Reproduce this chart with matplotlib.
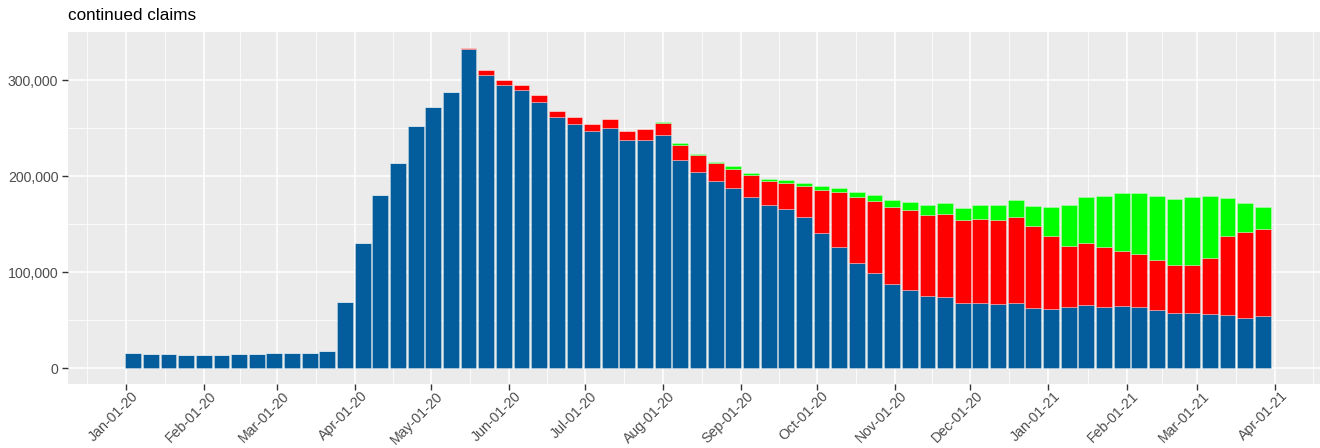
import numpy as np
import pandas as pd
import matplotlib
matplotlib.use("Agg")
import matplotlib.pyplot as plt
import matplotlib.dates as mdates
import matplotlib.transforms as mtransforms
from matplotlib.ticker import FuncFormatter, FixedLocator

plt.rcParams['font.family'] = ['Liberation Sans', 'DejaVu Sans']

# weekly data, week ending Saturday
weeks = pd.date_range("2020-01-04", "2021-03-27", freq="7D")

blue = [15300, 14300, 14300, 13500, 13500, 13500, 14200, 14200, 15300, 15300,
        15300, 18000, 69000, 130400, 180300, 213600, 251700, 271800, 287400, 332500,
        305400, 295000, 289500, 277700, 261400, 254800, 247200, 250000, 237500, 237500,
        242700, 217000, 204600, 194500, 187600, 178600, 170000, 165400, 157000, 140800,
        125800, 109600, 98800, 87800, 80800, 74600, 73900, 67600, 67600, 66200,
        68000, 62100, 61400, 63500, 65900, 63800, 64200, 63800, 60000, 57200,
        57200, 56500, 54800, 52000, 53800]

red = [0, 0, 0, 0, 0, 0, 0, 0, 0, 0,
       0, 0, 0, 0, 0, 0, 0, 0, 0, 1000,
       4900, 5200, 5500, 6600, 6600, 7000, 7300, 9000, 10000, 12100,
       12800, 15600, 17400, 18700, 20100, 22500, 24500, 27700, 33000, 45000,
       57200, 68400, 75600, 80400, 83900, 85200, 86700, 86300, 88100, 87700,
       89000, 85600, 76300, 64100, 64800, 62000, 58200, 55200, 53000, 50300,
       50300, 58200, 82900, 89900, 90800]

green = [0, 0, 0, 0, 0, 0, 0, 0, 0, 0,
         0, 0, 0, 0, 0, 0, 0, 0, 0, 0,
         0, 0, 0, 0, 0, 0, 0, 0, 0, 0,
         1100, 1400, 1300, 1800, 2400, 2400, 2800, 2400, 2400, 3500,
         4200, 5200, 5900, 7300, 8300, 10100, 11400, 13200, 14200, 16000,
         18200, 21100, 30500, 42300, 47600, 53100, 59600, 63000, 66600, 69000,
         71100, 64900, 39500, 30100, 22900]

blue = np.array(blue)
red = np.array(red)
green = np.array(green)

fig = plt.figure(figsize=(13.2, 4.48), dpi=100)
# the panel runs slightly past the right edge of the image
ax = fig.add_axes([68 / 1320, 64 / 448, 1260 / 1320, 352 / 448])
ax.set_facecolor("#EBEBEB")

width = 0.9 * 7
edge = (1, 1, 1, 0.35)
ax.bar(weeks, blue, width=width, color="#035C9C", edgecolor=edge, linewidth=0.6, zorder=3)
ax.bar(weeks, red, width=width, bottom=blue, color="#FF0000", edgecolor=edge, linewidth=0.6, zorder=3)
ax.bar(weeks, green, width=width, bottom=blue + red, color="#00FF00", edgecolor=edge, linewidth=0.6, zorder=3)

# limits like ggplot (5% expansion)
x0 = mdates.date2num(weeks[0]) - width / 2
x1 = mdates.date2num(weeks[-1]) + width / 2
span = x1 - x0
ax.set_xlim(x0 - 0.05 * span, x1 + 0.05 * span)
top = (blue + red + green).max()
ax.set_ylim(-0.05 * top, 1.05 * top)

# ticks and grid
months = pd.date_range("2020-01-01", "2021-04-01", freq="MS")
ax.xaxis.set_major_locator(FixedLocator(mdates.date2num(months)))
ax.xaxis.set_major_formatter(mdates.DateFormatter("%b-%d-%y"))
edges = pd.date_range("2019-12-01", "2021-05-01", freq="MS")
mids = [(mdates.date2num(a) + mdates.date2num(b)) / 2 for a, b in zip(edges[:-1], edges[1:])]
ax.xaxis.set_minor_locator(FixedLocator(mids))

ax.yaxis.set_major_locator(FixedLocator([0, 100000, 200000, 300000]))
ax.yaxis.set_minor_locator(FixedLocator([50000, 150000, 250000]))
ax.yaxis.set_major_formatter(FuncFormatter(lambda v, p: f"{int(v):,}"))

ax.grid(which="major", color="white", linewidth=1.1, zorder=0)
ax.grid(which="minor", color="white", linewidth=0.55, zorder=0)
ax.set_axisbelow(True)

for s in ax.spines.values():
    s.set_visible(False)

ax.tick_params(which="major", length=4, width=1, color="#333333", labelcolor="#4D4D4D", labelsize=10.2)
ax.tick_params(which="minor", length=0)
ax.tick_params(axis="y", pad=3)
ax.tick_params(axis="x", pad=1)
shift = mtransforms.ScaledTranslation(5 / 100, 2 / 100, fig.dpi_scale_trans)
for lab in ax.get_xticklabels():
    lab.set_rotation(45)
    lab.set_ha("right")
    lab.set_rotation_mode("anchor")
    lab.set_transform(lab.get_transform() + shift)

fig.text(68 / 1320, 1 - 15 / 448, "continued claims", fontsize=12.3, color="black", ha="left", va="center")

fig.savefig("out.png", dpi=100)
